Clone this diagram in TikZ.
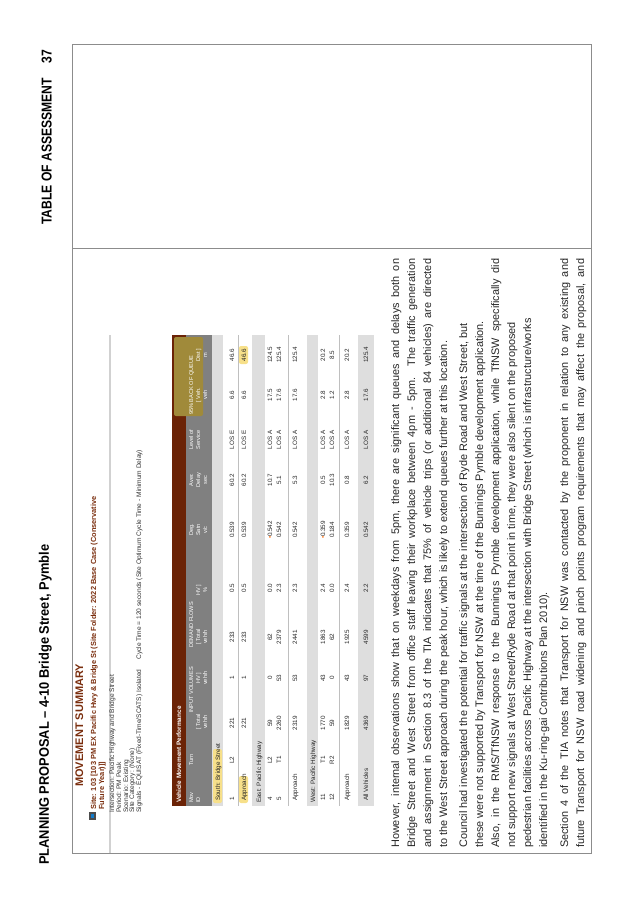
\documentclass[tikz,border=0pt]{standalone}
\usepackage{fontspec}
\setmainfont{Liberation Sans}
\usepackage{graphicx}
\definecolor{brownhd}{HTML}{6B2306}
\definecolor{grayhd}{HTML}{808080}
\definecolor{band}{HTML}{DEDEDE}
\definecolor{boxline}{HTML}{8C8C8C}
\definecolor{hilite}{HTML}{F7E08A}
\definecolor{qhl}{HTML}{A08A3A}
\definecolor{titlebrown}{HTML}{7A2E0E}
\newcommand{\tabfont}{\fontsize{6.3}{7}\selectfont}
\newcommand{\hdfont}{\fontsize{5.6}{6}\selectfont}
\newcommand{\dotm}{{\color{orange!80!red}\textbullet}}
\tikzset{
  cell/.style={rotate=90, font=\tabfont, inner sep=0pt, anchor=base, text=black!85},
  lab/.style={cell, anchor=base west},
  hd/.style={rotate=90, font=\hdfont, inner sep=0pt, anchor=base, text=white},
  hdw/.style={hd, anchor=base west},
  body/.style={rotate=90, font=\fontsize{10.9}{16}\selectfont, inner sep=0pt, anchor=base west, text=black!85},
  info/.style={rotate=90, font=\fontsize{6.6}{7}\selectfont, inner sep=0pt, anchor=base west, text=black!80},
}
\begin{document}
\begin{tikzpicture}[x=1pt,y=-1pt]
\useasboundingbox (0,0) rectangle (638,900);
% page header
\node[rotate=90, inner sep=0pt, anchor=south west] (hdr1) at (52,865) {\resizebox{320pt}{10pt}{\bfseries PLANNING PROPOSAL -- 4-10 Bridge Street, Pymble}};
\node[rotate=90, inner sep=0pt, anchor=south west] (hdr2) at (52,225) {\resizebox{175pt}{10pt}{\bfseries TABLE OF ASSESSMENT\hspace{1.2em}37}};
% frame
\draw[boxline, line width=0.8pt] (72,44) rectangle (591,853);
\draw[boxline, line width=0.8pt] (72,248) -- (591,248);
\draw[black!18, line width=1.2pt] (110,335) -- (110,853);
% titles
\node[rotate=90, inner sep=0pt, anchor=base west, font=\fontsize{11}{12}\selectfont\bfseries, text=titlebrown] (ms) at (83,787) {MOVEMENT SUMMARY};
\fill[black!70] (89,812) rectangle (96,820);
\fill[cyan!60!blue] (91,814) rectangle (94,818);
\node[rotate=90, inner sep=0pt, anchor=base west, font=\fontsize{7.4}{8}\selectfont\bfseries, text=titlebrown] (site1) at (96,810) {Site: 103 [103 PM EX Pacific Hwy \& Bridge St (Site Folder: 2022 Base Case (Conservative};
\node[rotate=90, inner sep=0pt, anchor=base west, font=\fontsize{7.4}{8}\selectfont\bfseries, text=titlebrown] (site2) at (104,810) {Future Year)]]};
\node[info] (i1) at (114,813) {Intersection: Pacific Highway and Bridge Street};
\node[info] (i2) at (121,813) {Period: PM Peak};
\node[info] (i3) at (128,813) {Scenario: Existing};
\node[info] (i4) at (134,813) {Site Category: (None)};
\node[info] (i5) at (141,813) {Signals - EQUISAT (Fixed-Time/SCATS) Isolated\hspace{1.5em}Cycle Time = 120 seconds (Site Optimum Cycle Time - Minimum Delay)};
% table backgrounds
\fill[brownhd] (172,335) rectangle (186,806);
\fill[grayhd] (186,335) rectangle (212,806);
\fill[qhl, rounded corners=2pt] (174,337) rectangle (203,416);
\fill[band] (212,335) rectangle (223,806);
\fill[band] (252,335) rectangle (265,806);
\fill[band] (307,335) rectangle (318,806);
\fill[band] (358,335) rectangle (374,806);
\draw[black!25, line width=0.6pt] (238,335) -- (238,806);
\draw[black!25, line width=0.6pt] (288,335) -- (288,806);
\draw[black!25, line width=0.6pt] (339,335) -- (339,806);
\fill[hilite, rounded corners=2pt] (213,803) rectangle (222,749);
\fill[hilite, rounded corners=2pt] (239,803) rectangle (248,776);
\fill[hilite, rounded corners=2pt] (239,364) rectangle (248,346);
% header texts
\node[rotate=90, inner sep=0pt, anchor=base west, font=\fontsize{6.4}{7}\selectfont\bfseries, text=white] (vmp) at (181,803) {Vehicle Movement Performance};
\node[hdw] (h1) at (193,803) {Mov}; \node[hdw] (h2) at (200,803) {ID};
\node[hd] (h3) at (193,760) {Turn};
\node[hdw] (h4) at (193,713) {INPUT VOLUMES};
\node[hd] (h5) at (200,722) {[ Total}; \node[hd] (h6) at (207,722) {veh/h};
\node[hd] (h7) at (200,678) {HV ]}; \node[hd] (h8) at (207,678) {veh/h};
\node[hdw] (h9) at (193,648) {DEMAND FLOWS};
\node[hd] (h10) at (200,637) {[ Total}; \node[hd] (h11) at (207,637) {veh/h};
\node[hd] (h12) at (200,590) {HV ]}; \node[hd] (h13) at (207,590) {\%};
\node[hd] (h14) at (193,530) {Deg.}; \node[hd] (h15) at (200,530) {Satn}; \node[hd] (h16) at (207,530) {v/c};
\node[hd] (h17) at (193,480) {Aver.}; \node[hd] (h18) at (200,480) {Delay}; \node[hd] (h19) at (207,480) {sec};
\node[hd] (h20) at (193,440) {Level of}; \node[hd] (h21) at (200,440) {Service};
\node[hdw] (h22) at (193,415) {95\% BACK OF QUEUE};
\node[hd] (h23) at (200,395) {[ Veh.}; \node[hd] (h24) at (207,395) {veh};
\node[hd] (h25) at (200,355) {Dist ]}; \node[hd] (h26) at (207,355) {m};
% group labels
\node[lab] (g1) at (220,801) {South: Bridge Street};
\node[lab] (g2) at (261,803) {East: Pacific Highway};
\node[lab] (g3) at (315,803) {West: Pacific Highway};
% rows
\foreach \x/\a/\b/\c/\d/\e/\f/\g/\h/\i/\j/\k in {
 234/1/L2/221/1/233/0.5/0.539/60.2/LOS E/6.6/46.6,
 246/Approach//221/1/233/0.5/0.539/60.2/LOS E/6.6/46.6,
 272/4/L2/59/0/62/0.0/\dotm0.542/10.7/LOS A/17.5/124.5,
 281/5/T1/2260/53/2379/2.3/0.542/5.1/LOS A/17.6/125.4,
 297/Approach//2319/53/2441/2.3/0.542/5.3/LOS A/17.6/125.4,
 325/11/T1/1770/43/1863/2.4/\dotm0.359/0.5/LOS A/2.8/20.2,
 334/12/R2/59/0/62/0.0/0.184/10.3/LOS A/1.2/8.5,
 349/Approach//1829/43/1925/2.4/0.359/0.8/LOS A/2.8/20.2,
 368/All Vehicles//4369/97/4599/2.2/0.542/6.2/LOS A/17.6/125.4}{
 \node[lab] at (\x,801) {\a};
 \node[cell] at (\x,760) {\b};
 \node[cell] at (\x,723) {\c};
 \node[cell] at (\x,678) {\d};
 \node[cell] at (\x,637) {\e};
 \node[cell] at (\x,588) {\f};
 \node[cell] at (\x,530) {\g};
 \node[cell] at (\x,480) {\h};
 \node[cell] at (\x,440) {\i};
 \node[cell] at (\x,395) {\j};
 \node[cell] at (\x,355) {\k};
}
% body text
\node[body] (p1a) at (399,848) {\hbox to 589pt{However, internal observations show that on weekdays from 5pm, there are significant queues and delays both on}};
\node[body] (p1b) at (415,848) {\hbox to 589pt{Bridge Street and West Street from office staff leaving their workplace between 4pm - 5pm. The traffic generation}};
\node[body] (p1c) at (431,848) {\hbox to 589pt{and assignment in Section 8.3 of the TIA indicates that 75\% of vehicle trips (or additional 84 vehicles) are directed}};
\node[body] (p1d) at (447,848) {to the West Street approach during the peak hour, which is likely to extend queues further at this location.};
\node[body] (p2a) at (467,848) {Council had investigated the potential for traffic signals at the intersection of Ryde Road and West Street, but};
\node[body] (p2b) at (483,848) {these were not supported by Transport for NSW at the time of the Bunnings Pymble development application.};
\node[body] (p2c) at (499,848) {\hbox to 589pt{Also, in the RMS/TfNSW response to the Bunnings Pymble development application, while TfNSW specifically did}};
\node[body] (p2d) at (515,848) {not support new signals at West Street/Ryde Road at that point in time, they were also silent on the proposed};
\node[body] (p2e) at (531,848) {pedestrian facilities across Pacific Highway at the intersection with Bridge Street (which is infrastructure/works};
\node[body] (p2f) at (547,848) {identified in the Ku-ring-gai Contributions Plan 2010).};
\node[body] (p3a) at (568,848) {\hbox to 589pt{Section 4 of the TIA notes that Transport for NSW was contacted by the proponent in relation to any existing and}};
\node[body] (p3b) at (584,848) {\hbox to 589pt{future Transport for NSW road widening and pinch points program requirements that may affect the proposal, and}};
\end{tikzpicture}
\end{document}
